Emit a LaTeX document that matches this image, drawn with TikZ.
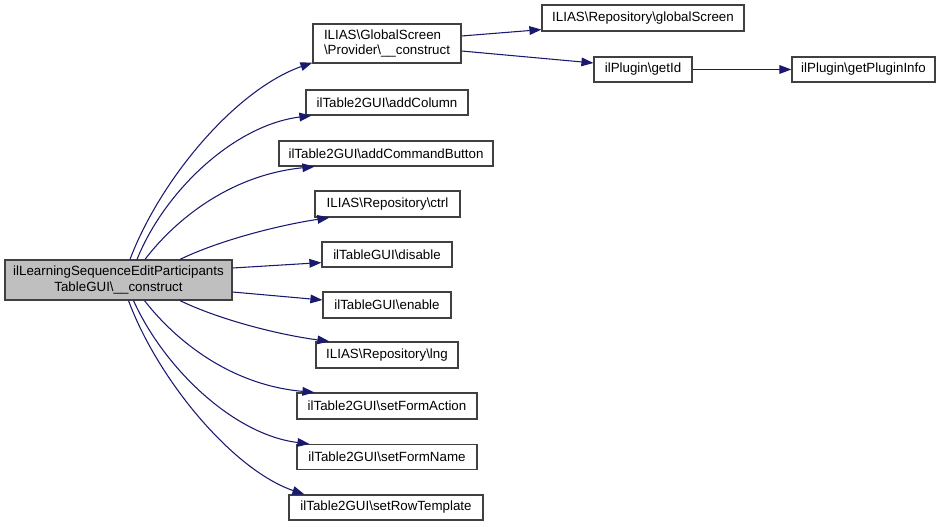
\documentclass[tikz,border=0pt]{standalone}
\usepackage{fontspec}
\setmainfont{Liberation Sans}
\usetikzlibrary{arrows.meta,calc}
\definecolor{edgecol}{HTML}{191970}
\definecolor{bordercol}{HTML}{404040}
\definecolor{mainfill}{HTML}{BFBFBF}
\tikzset{
  box/.style={draw=bordercol, line width=0.9pt, fill=white, inner sep=0pt,
    font=\fontsize{10}{11.5}\selectfont, text=black},
  bw/.style={minimum width=#1*0.75pt},
  bh/.style={minimum height=#1*0.75pt},
  edge/.style={draw=edgecol, line width=0.8pt,
    -{Triangle[length=9pt,width=6.5pt]}},
}
\newcommand{\bs}{\textbackslash}
\begin{document}
\begin{tikzpicture}[x=0.75pt,y=-0.75pt]
\useasboundingbox (0,0) rectangle (941,527);
% nodes
\node[box, fill=mainfill, bw=227, bh=40, align=center] (main) at (118.5,280)
  {ilLearningSequenceEditParticipants\\TableGUI\bs\_\_construct};
\node[box, bw=148, bh=39, align=left] (gs) at (387,43.5)
  {ILIAS\bs GlobalScreen\\\bs Provider\bs\_\_construct};
\node[box, bw=162, bh=25] (addcol) at (387,102.5) {ilTable2GUI\bs addColumn};
\node[box, bw=214, bh=25] (addcmd) at (386,153.5) {ilTable2GUI\bs addCommandButton};
\node[box, bw=145, bh=26] (ctrl) at (387.5,204) {ILIAS\bs Repository\bs ctrl};
\node[box, bw=130, bh=25] (disable) at (387,254.5) {ilTableGUI\bs disable};
\node[box, bw=128, bh=26] (enable) at (387,305) {ilTableGUI\bs enable};
\node[box, bw=142, bh=26] (lng) at (387,355) {ILIAS\bs Repository\bs lng};
\node[box, bw=180, bh=26] (sfa) at (387,406) {ilTable2GUI\bs setFormAction};
\node[box, bw=180, bh=25] (sfn) at (387,457) {ilTable2GUI\bs setFormName};
\node[box, bw=194, bh=25] (srt) at (386,507.5) {ilTable2GUI\bs setRowTemplate};
\node[box, bw=202, bh=26] (gscr) at (643,18) {ILIAS\bs Repository\bs globalScreen};
\node[box, bw=98, bh=25] (getid) at (643,69.5) {ilPlugin\bs getId};
\node[box, bw=143, bh=25] (gpi) at (863.5,69.5) {ilPlugin\bs getPluginInfo};
% edges
\draw[edge] ($(main.north)+(11.5,0)$) .. controls (160,180) and (235,90) .. ($(gs.south west)+(0,-1)$);
\draw[edge] ($(main.north)+(18.5,0)$) .. controls (165,190) and (235,125) .. ($(addcol.south west)+(6,0)$);
\draw[edge] ($(main.north)+(26.5,0)$) .. controls (175,220) and (230,175) .. ($(addcmd.south west)+(36,0)$);
\draw[edge] ($(main.north)+(61.5,0)$) .. controls (220,240) and (280,225) .. ($(ctrl.south west)+(15,0)$);
\draw[edge] ($(main.east)+(0,-12)$) -- ($(disable.south west)+(0,-5)$);
\draw[edge] ($(main.east)+(0,12)$) -- ($(enable.west)+(0,-5)$);
\draw[edge] ($(main.south)+(61.5,0)$) .. controls (220,320) and (280,335) .. ($(lng.north west)+(14,0)$);
\draw[edge] ($(main.south)+(26,0)$) .. controls (175,340) and (230,385) .. ($(sfa.north west)+(18,0)$);
\draw[edge] ($(main.south)+(15,0)$) .. controls (165,370) and (235,435) .. ($(sfn.north west)+(13,0)$);
\draw[edge] ($(main.south)+(10,0)$) .. controls (158,380) and (233,470) .. ($(srt.north west)+(16,0)$);
\draw[edge] ($(gs.east)+(0,-7.5)$) -- ($(gscr.south west)+(0,-2)$);
\draw[edge] ($(gs.east)+(0,7.5)$) -- ($(getid.west)+(0,-6.5)$);
\draw[edge] (getid.east) -- (gpi.west);
\end{tikzpicture}
\end{document}
